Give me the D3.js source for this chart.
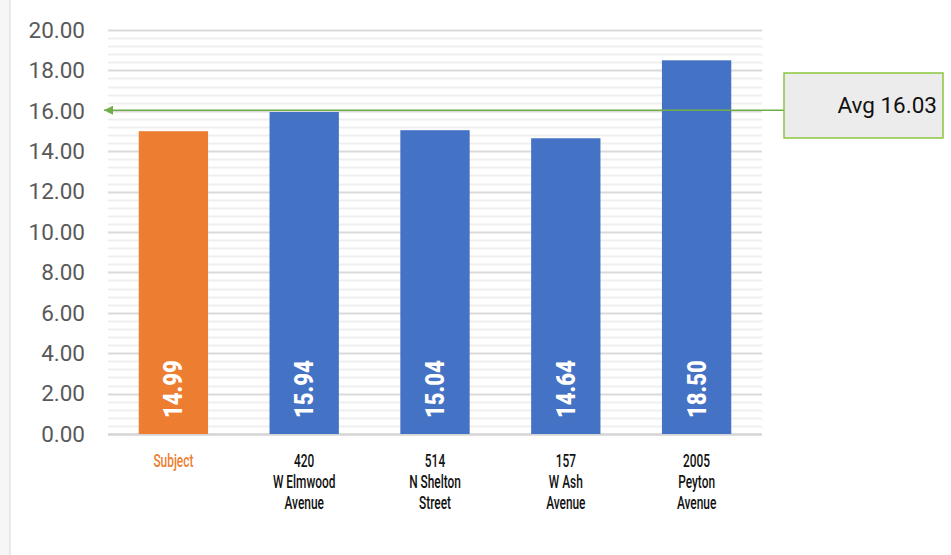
<!DOCTYPE html>
<html><head><meta charset="utf-8">
<script src="https://cdn.jsdelivr.net/npm/d3@7"></script>
<style>
html,body{margin:0;padding:0;background:#fff;}
svg{display:block;}
</style></head>
<body>
<svg id="chart" width="951" height="555"></svg>
<script>
const categories = [["Subject"],["420","W Elmwood","Avenue"],["514","N Shelton","Street"],["157","W Ash","Avenue"],["2005","Peyton","Avenue"]];
const values = [14.99, 15.94, 15.04, 14.64, 18.50];
const barColors = ["#ED7D31","#4472C4","#4472C4","#4472C4","#4472C4"];
const labelColors = ["#ED7D31","#111111","#111111","#111111","#111111"];
const yTicks = [0,2,4,6,8,10,12,14,16,18,20];
const avgValue = 16.03;
const avgLabel = "Avg 16.03";

(function(){
const svg = d3.select("#chart");
const W = 951, H = 555;
const pLeft = 108, pRight = 762, pTop = 30, pBottom = 434;

// page background / frame
svg.append("rect").attr("x",0).attr("y",0).attr("width",10).attr("height",H).attr("fill","#f6f6f6");
svg.append("line").attr("x1",10).attr("x2",10).attr("y1",0).attr("y2",H).attr("stroke","#e3e3e3").attr("stroke-width",1.5);

const x = d3.scaleBand().domain(d3.range(values.length)).range([pLeft,pRight]).paddingInner(0.47).paddingOuter(0.235);
const y = d3.scaleLinear().domain([0,20]).range([pBottom,pTop]);

// minor gridlines
const minor = d3.range(0,20.001,0.4).filter(v => Math.abs(v/2 - Math.round(v/2))>0.01);
svg.append("g").selectAll("line").data(minor).join("line")
  .attr("x1",pLeft).attr("x2",pRight)
  .attr("y1",d=>Math.round(y(d))+0.5).attr("y2",d=>Math.round(y(d))+0.5)
  .attr("stroke","#efefef").attr("stroke-width",2);
// major gridlines
svg.append("g").selectAll("line").data(yTicks).join("line")
  .attr("x1",pLeft).attr("x2",pRight)
  .attr("y1",d=>Math.round(y(d))+0.5).attr("y2",d=>Math.round(y(d))+0.5)
  .attr("stroke",d=>d===0?"#d4d4d4":"#dadada").attr("stroke-width",d=>d===0?2.5:2);

// y axis labels
const yAxis = d3.axisLeft(y).tickValues(yTicks).tickFormat(d3.format(".2f")).tickSize(0).tickPadding(0);
const ga = svg.append("g").attr("transform","translate(85,0)").call(yAxis);
ga.select(".domain").remove();
ga.selectAll("text").attr("fill","#595959").attr("font-family","Roboto, 'Liberation Sans', sans-serif").attr("font-size","22.5px");

// bars
svg.append("g").selectAll("rect").data(values).join("rect")
  .attr("x",(d,i)=>x(i)).attr("width",x.bandwidth())
  .attr("y",d=>y(d)).attr("height",d=>y(0)-y(d))
  .attr("fill",(d,i)=>barColors[i]);

// value labels (rotated)
svg.append("g").selectAll("text").data(values).join("text")
  .attr("transform",(d,i)=>`translate(${x(i)+x.bandwidth()/2+9},${y(0)-16}) rotate(-90) scale(0.85,1)`)
  .attr("fill","#fff").attr("font-weight","900")
  .attr("font-family","Roboto, 'Liberation Sans', sans-serif").attr("font-size","26px")
  .text(d=>d.toFixed(2));

// category labels
const cg = svg.append("g");
categories.forEach((lines,i)=>{
  const cx = x(i)+x.bandwidth()/2;
  lines.forEach((s,j)=>{
    cg.append("text")
      .attr("transform",`translate(${cx},${467+j*21}) scale(0.66,1)`)
      .attr("text-anchor","middle")
      .attr("fill",labelColors[i])
      .attr("font-family","Roboto, 'Liberation Sans', sans-serif").attr("font-size","18px")
      .attr("font-weight","500")
      .text(s);
  });
});

// average line with arrow
const defs = svg.append("defs");
defs.append("marker").attr("id","arr").attr("viewBox","0 0 10 10").attr("refX",10).attr("refY",5)
  .attr("markerWidth",10).attr("markerHeight",9).attr("markerUnits","userSpaceOnUse").attr("orient","auto")
  .append("path").attr("d","M0,0 L10,5 L0,10 Z").attr("fill","#70AD47");
const ay = y(avgValue);
svg.append("line").attr("x1",784).attr("x2",104).attr("y1",ay).attr("y2",ay)
  .attr("stroke","#70AD47").attr("stroke-width",1.5).attr("marker-end","url(#arr)");

// avg box
svg.append("rect").attr("x",784).attr("y",73).attr("width",159).attr("height",65)
  .attr("fill","#ececec").attr("stroke","#8cc63f").attr("stroke-width",1.5);
svg.append("text").attr("x",937).attr("y",113).attr("text-anchor","end")
  .attr("fill","#111").attr("font-family","Roboto, 'Liberation Sans', sans-serif").attr("font-size","22.5px")
  .text(avgLabel);
})();
</script>
</body></html>
